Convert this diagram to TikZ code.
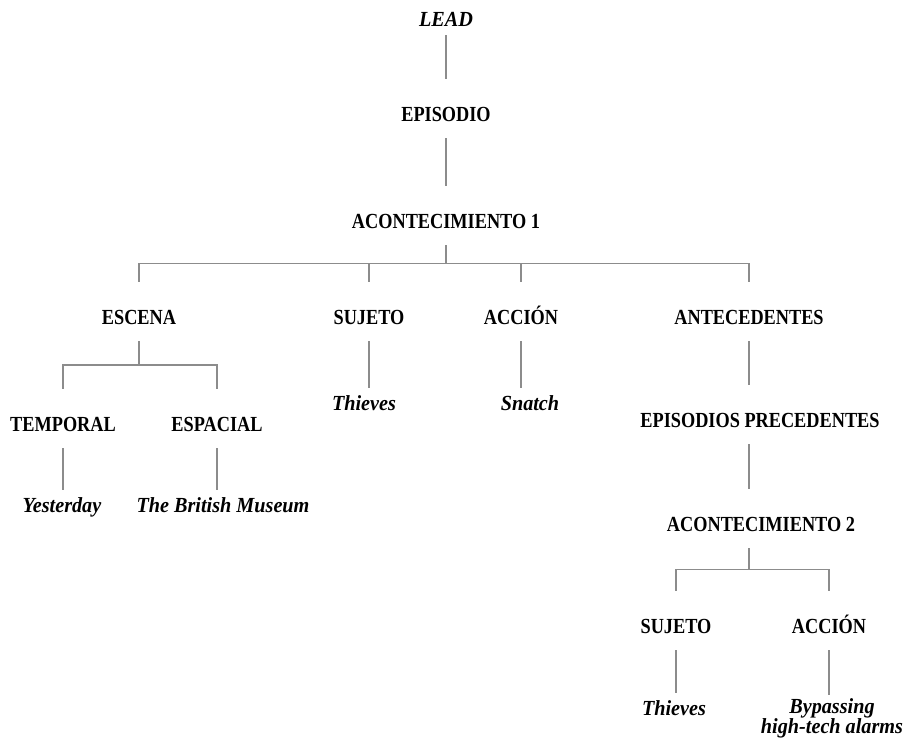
\documentclass[tikz,border=0pt]{standalone}
\usepackage{fontspec}
\usetikzlibrary{calc}
\newfontfamily\capsface{Liberation Serif}[FakeStretch=0.85]
\newfontfamily\leafface{Liberation Serif}[FakeStretch=0.94]
\definecolor{linegray}{RGB}{140,140,140}
% keep the two-line leaf label at its fixed baseline distance
\setlength{\lineskiplimit}{-20pt}
\begin{document}
\begin{tikzpicture}[x=1pt,y=-1pt,
  termnode/.style={anchor=base, inner sep=0pt, text height=42pt, text depth=17pt,
    font=\capsface\bfseries\fontsize{21.5}{24}\selectfont},
  leafnode/.style={anchor=base, inner sep=0pt, text height=22pt, text depth=9pt,
    font=\leafface\bfseries\itshape\fontsize{21.5}{20}\selectfont},
  branch/.style={draw=linegray, line width=1.5pt}]
\fill[white] (0,0) rectangle (910,747);
\useasboundingbox (0,0) rectangle (910,747);

% upper spine
\node[leafnode] (lead) at (446,26) {LEAD};
\node[termnode] (epi) at (446,121) {EPISODIO};
\node[termnode] (a1) at (446,228) {ACONTECIMIENTO 1};

% first event
\node[termnode] (escena) at (139,324) {ESCENA};
\node[termnode] (sujeto) at (369,324) {SUJETO};
\node[termnode] (accion) at (521,324) {ACCIÓN};
\node[termnode] (ant) at (749,324) {ANTECEDENTES};

% setting
\node[termnode] (temporal) at (63,431) {TEMPORAL};
\node[termnode] (espacial) at (217,431) {ESPACIAL};
\node[leafnode] (yest) at (62,512) {Yesterday};
\node[leafnode] (museum) at (223,512) {The British Museum};

\node[leafnode] (thieves) at (364,410) {Thieves};
\node[leafnode] (snatch) at (530,410) {Snatch};

% preceding episodes
\node[termnode] (prec) at (760,427) {EPISODIOS PRECEDENTES};
\node[termnode] (a2) at (761,531) {ACONTECIMIENTO 2};
\node[termnode] (suj2) at (676,633) {SUJETO};
\node[termnode] (acc2) at (829,633) {ACCIÓN};
\node[leafnode] (thv2) at (674,715) {Thieves};
\node[leafnode, align=center, text height=38pt] (bypass) at (832,733) {Bypassing\\high-tech alarms};

% connectors
\draw[branch] (lead.south) -- (epi.north);
\draw[branch] (epi.south) -- (a1.north);
\foreach \c in {escena,sujeto,accion,ant}
  \draw[branch] (a1.south) |- ($(a1.south)!.5!(\c.north)$) -| (\c.north);
\foreach \c in {temporal,espacial}
  \draw[branch] (escena.south) |- ($(escena.south)!.5!(\c.north)$) -| (\c.north);
\draw[branch] (temporal.south) -- (temporal.south |- yest.north);
\draw[branch] (espacial.south) -- (espacial.south |- museum.north);
\draw[branch] (sujeto.south) -- (sujeto.south |- thieves.north);
\draw[branch] (accion.south) -- (accion.south |- snatch.north);
\draw[branch] (ant.south) -- (ant.south |- prec.north);
\draw[branch] (prec.south -| ant.south) -- (a2.north -| ant.south);
\coordinate (a2s) at (a2.south -| ant.south);
\foreach \c in {suj2,acc2}
  \draw[branch] (a2s) |- ($(a2s)!.5!(\c.north)$) -| (\c.north);
\draw[branch] (suj2.south) -- (suj2.south |- thv2.north);
\draw[branch] (acc2.south) -- (acc2.south |- bypass.north);
\end{tikzpicture}
\end{document}
